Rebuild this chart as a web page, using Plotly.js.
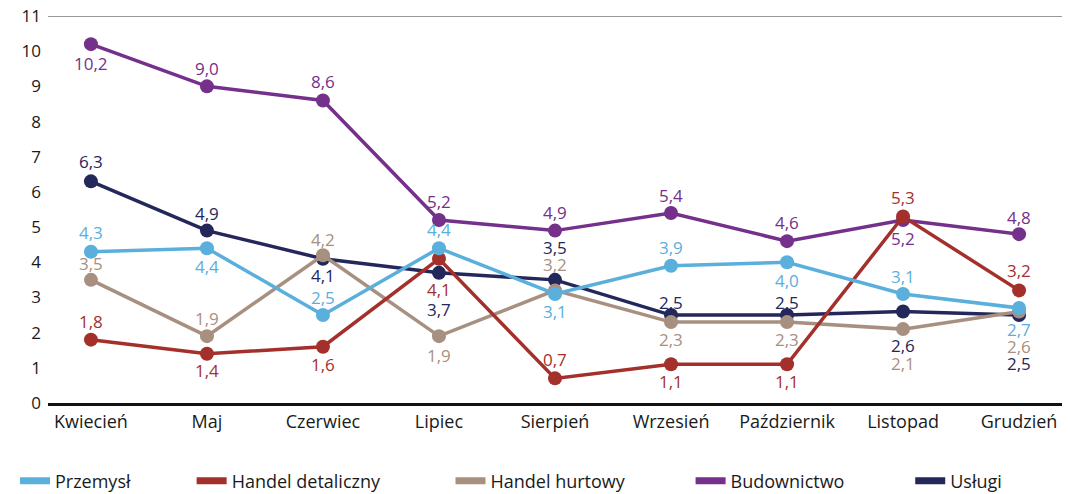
<!DOCTYPE html>
<html><head><meta charset="utf-8">
<script src="https://cdn.plot.ly/plotly-3.0.1.min.js"></script>
<style>html,body{margin:0;padding:0;background:#fff}#chart{width:1070px;height:494px}</style>
</head><body><div id="chart"></div>
<script>
const months = ["Kwiecień","Maj","Czerwiec","Lipiec","Sierpień","Wrzesień","Październik","Listopad","Grudzień"];
const przemysl = [4.3,4.4,2.5,4.4,3.1,3.9,4.0,3.1,2.7];
const handelDetaliczny = [1.8,1.4,1.6,4.1,0.7,1.1,1.1,5.3,3.2];
const handelHurtowy = [3.5,1.9,4.2,1.9,3.2,2.3,2.3,2.1,2.6];
const budownictwo = [10.2,9.0,8.6,5.2,4.9,5.4,4.6,5.2,4.8];
const uslugi = [6.3,4.9,4.1,3.7,3.5,2.5,2.5,2.6,2.5];

// styling: label vertical offsets in px (positive = above marker), legend spacing padding
const series = [
  {name:"Przemysł", y:przemysl, color:"#5aafdc", pad:12, shift:[19,-18,18,19,-18,18,-18,17,-21]},
  {name:"Handel detaliczny", y:handelDetaliczny, color:"#a4302b", pad:14, shift:[18,-17,-18,-31,19,-17,-17,19,20]},
  {name:"Handel hurtowy", y:handelHurtowy, color:"#a89080", pad:13, shift:[16,18,16,-19,26,-17,-17,-34,-35]},
  {name:"Budownictwo", y:budownictwo, color:"#74308a", pad:13, shift:[-19,18,19,19,18,18,19,-18,17]},
  {name:"Usługi", y:uslugi, color:"#23275a", pad:0, shift:[20,17,-17,-37,32,13,13,-34,-48]}
];
const FONT = "Open Sans, sans-serif";
const drawOrder = [4,3,2,1,0];
const traces = [];
drawOrder.forEach(i => {
  const s = series[i];
  traces.push({x:months, y:s.y, type:"scatter", mode:"lines+markers", name:s.name,
    line:{color:s.color, width:3.5}, marker:{color:s.color, size:14}, showlegend:false, hoverinfo:"x+y"});
});
series.forEach(s => {
  traces.push({x:[months[0]], y:[null], type:"scatter", mode:"lines", name:s.name + "\u00a0".repeat(s.pad),
    line:{color:s.color, width:7}, showlegend:true, hoverinfo:"skip"});
});
const annotations = [];
series.forEach(s => {
  s.y.forEach((v,j) => {
    annotations.push({x:months[j], y:v, xref:"x", yref:"y", text:v.toFixed(1).replace(".",","),
      showarrow:false, yshift:s.shift[j], font:{size:17, color:s.color, family:FONT}});
  });
});
const layout = {
  width:1070, height:494,
  margin:{l:48, r:8, t:16, b:91},
  paper_bgcolor:"#fff", plot_bgcolor:"#fff",
  font:{family:FONT, size:17, color:"#1a1a1a"},
  showlegend:true,
  legend:{orientation:"h", xref:"container", yref:"container", x:0.014, y:0.026, xanchor:"left", yanchor:"middle",
    font:{family:FONT, size:18, color:"#1a1a1a"}},
  xaxis:{type:"category", range:[-0.37, 8.37], showgrid:false, zeroline:false, showline:true,
    linecolor:"#111", linewidth:3, ticks:"", tickfont:{size:18}, fixedrange:true},
  yaxis:{range:[0,11], dtick:1, showgrid:false, zeroline:false, showline:false, ticks:"",
    tickfont:{size:17}, ticklabelstandoff:6, fixedrange:true},
  shapes:[{type:"line", xref:"paper", yref:"y", x0:0, x1:1, y0:11, y1:11, line:{color:"#777", width:1.5}}],
  annotations:annotations
};
Plotly.newPlot("chart", traces, layout, {displayModeBar:false, staticPlot:true});
</script></body></html>
